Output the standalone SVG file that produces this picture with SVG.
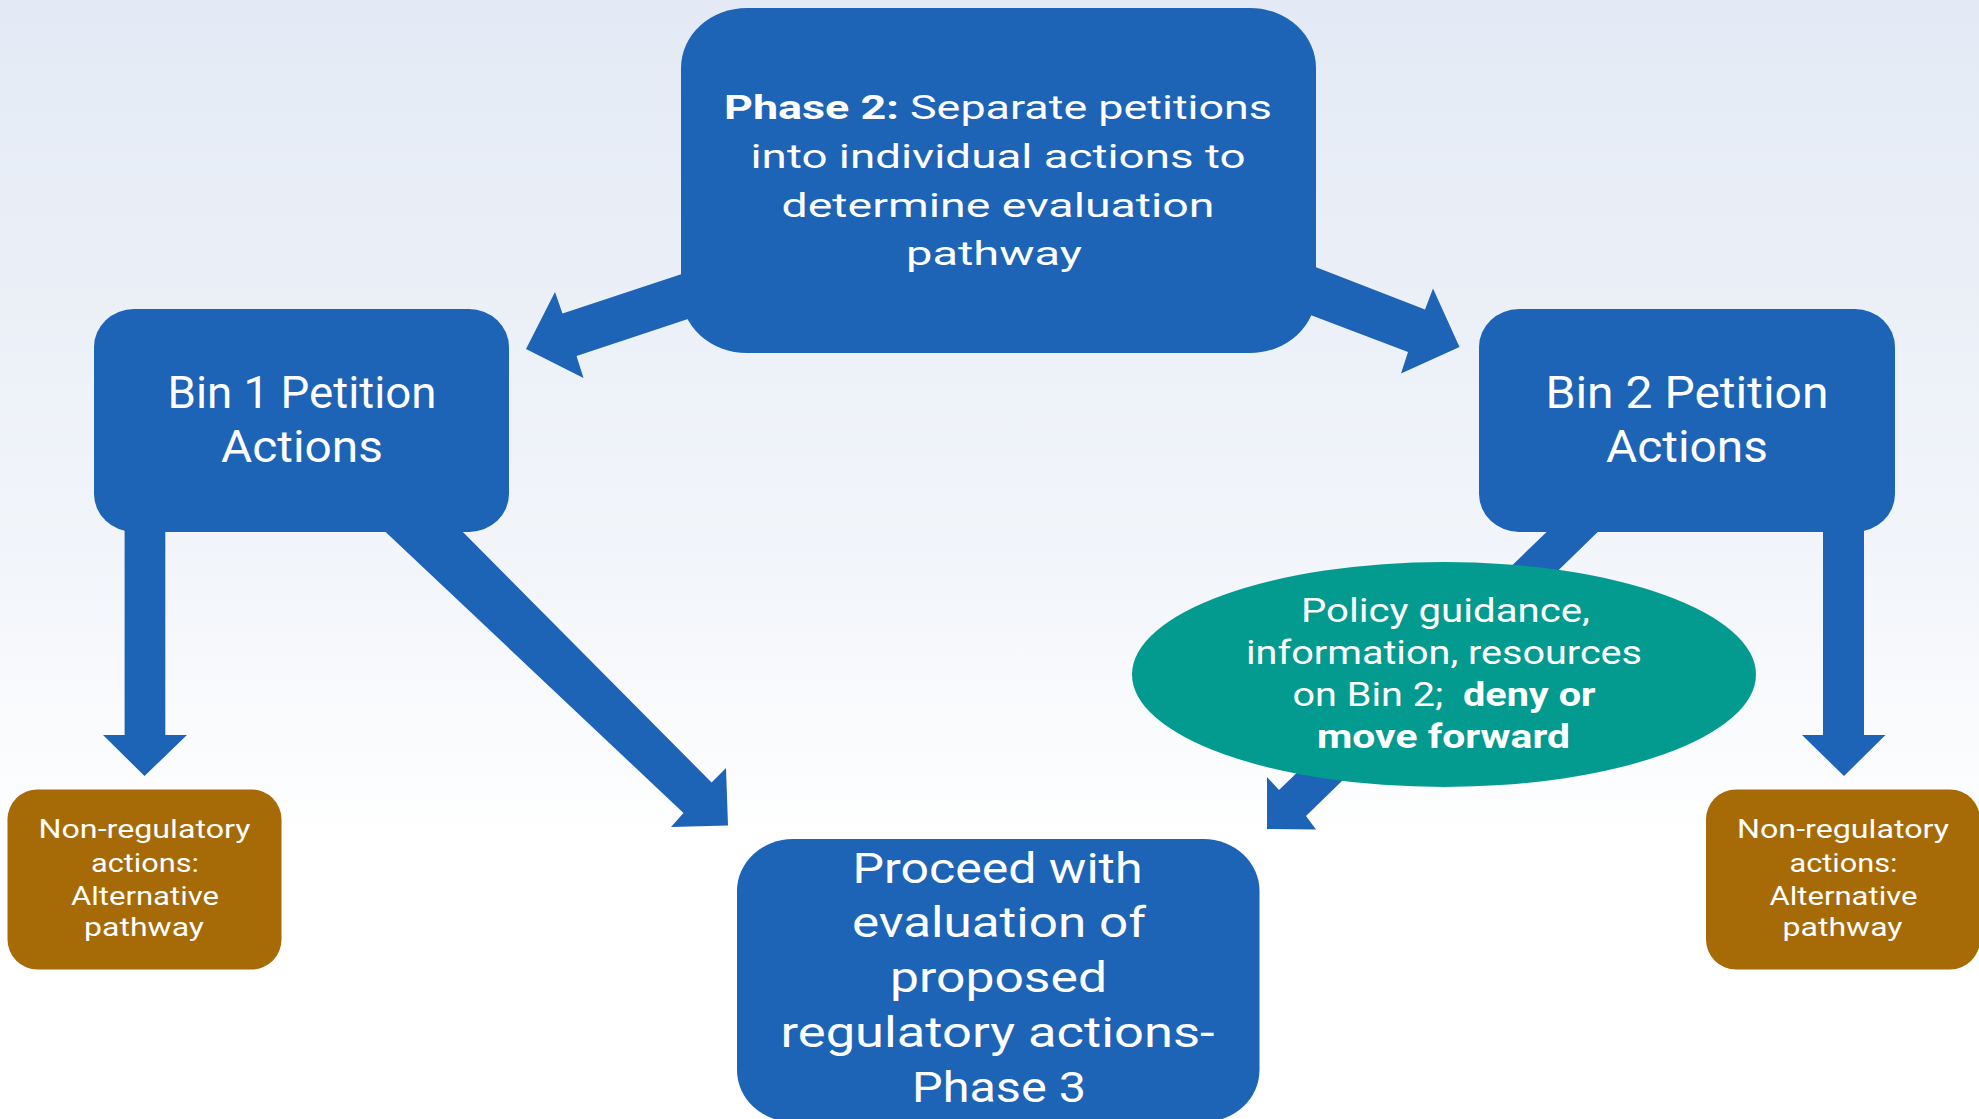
<svg xmlns="http://www.w3.org/2000/svg" width="1979" height="1119" viewBox="0 0 1979 1119">
<defs>
<linearGradient id="bg" x1="0" y1="0" x2="0" y2="1">
<stop offset="0" stop-color="#e3eaf5"/>
<stop offset="0.5" stop-color="#f2f5fa"/>
<stop offset="0.75" stop-color="#ffffff"/>
<stop offset="1" stop-color="#ffffff"/>
</linearGradient>
<style>
.blue{fill:#1d63b6}
.brown{fill:#a66a06}
.teal{fill:#039b8f}
.t{fill:#ffffff;font-family:Roboto,"Liberation Sans",sans-serif;text-anchor:middle}
.b{font-weight:700}
</style>
</defs>
<rect x="0" y="0" width="1979" height="1119" fill="url(#bg)"/>
<g id="connectors">
<polygon class="blue" points="700,268 562.5,313.5 555,292 526,349 583.5,378 576.5,356 700,315"/>
<polygon class="blue" points="1300,261 1425,309.5 1433,288.5 1459.5,347 1401,373.5 1408,352 1300,311"/>
<polygon class="blue" points="124.6,520 124.6,735 103,735 144.5,776 187,735 165.3,735 165.3,520"/>
<polygon class="blue" points="1823,520 1823,735 1802,735 1844,776 1885.5,735 1864,735 1864,520"/>
<polygon class="blue" points="375,522 683.5,813 671,827 728,825.5 726,768 711.6,782.5 453,522"/>
<polygon class="blue" points="1557,522 1279,790 1267,777 1267,829 1316,829.5 1306,816 1608,522"/>
</g>
<g id="phase2">
<rect class="blue" x="681" y="8" width="635" height="345" rx="66" ry="60"/>
<text class="t" font-size="34"><tspan x="998" y="119" textLength="548" lengthAdjust="spacingAndGlyphs"><tspan class="b">Phase 2:</tspan> Separate petitions</tspan></text>
<text class="t" font-size="34" x="998" y="168" textLength="495" lengthAdjust="spacingAndGlyphs">into individual actions to</text>
<text class="t" font-size="34" x="998" y="216.5" textLength="433" lengthAdjust="spacingAndGlyphs">determine evaluation</text>
<text class="t" font-size="34" x="994" y="265" textLength="176" lengthAdjust="spacingAndGlyphs">pathway</text>
</g>
<g id="bin1">
<rect class="blue" x="94" y="309" width="415" height="223" rx="40" ry="38"/>
<text class="t" font-size="45" x="302" y="407.5" textLength="269" lengthAdjust="spacingAndGlyphs">Bin 1 Petition</text>
<text class="t" font-size="45" x="302" y="462" textLength="162" lengthAdjust="spacingAndGlyphs">Actions</text>
</g>
<g id="bin2">
<rect class="blue" x="1479" y="309" width="416" height="223" rx="40" ry="38"/>
<text class="t" font-size="45" x="1687" y="407.5" textLength="283" lengthAdjust="spacingAndGlyphs">Bin 2 Petition</text>
<text class="t" font-size="45" x="1687" y="462" textLength="162" lengthAdjust="spacingAndGlyphs">Actions</text>
</g>
<g id="policy">
<ellipse class="teal" cx="1444" cy="674.5" rx="312" ry="112.5"/>
<text class="t" font-size="34" x="1445.5" y="622" textLength="289" lengthAdjust="spacingAndGlyphs">Policy guidance,</text>
<text class="t" font-size="34" x="1444" y="664" textLength="396" lengthAdjust="spacingAndGlyphs">information, resources</text>
<text class="t" font-size="34" style="white-space:pre"><tspan x="1444" y="706" textLength="303" lengthAdjust="spacingAndGlyphs">on Bin 2;  <tspan class="b">deny or</tspan></tspan></text>
<text class="t b" font-size="34" x="1443.5" y="748" textLength="253" lengthAdjust="spacingAndGlyphs">move forward</text>
</g>
<g id="nonreg1">
<rect class="brown" x="7.5" y="789.5" width="274" height="180" rx="30" ry="30"/>
<text class="t" font-size="26" x="144.5" y="838" textLength="212" lengthAdjust="spacingAndGlyphs">Non-regulatory</text>
<text class="t" font-size="26" x="145" y="871.5" textLength="108" lengthAdjust="spacingAndGlyphs">actions:</text>
<text class="t" font-size="26" x="145" y="905" textLength="148" lengthAdjust="spacingAndGlyphs">Alternative</text>
<text class="t" font-size="26" x="144" y="936" textLength="120" lengthAdjust="spacingAndGlyphs">pathway</text>
</g>
<g id="nonreg2">
<rect class="brown" x="1706" y="789.5" width="274" height="180" rx="30" ry="30"/>
<text class="t" font-size="26" x="1843" y="838" textLength="212" lengthAdjust="spacingAndGlyphs">Non-regulatory</text>
<text class="t" font-size="26" x="1843.5" y="871.5" textLength="108" lengthAdjust="spacingAndGlyphs">actions:</text>
<text class="t" font-size="26" x="1843.5" y="905" textLength="148" lengthAdjust="spacingAndGlyphs">Alternative</text>
<text class="t" font-size="26" x="1842.5" y="936" textLength="120" lengthAdjust="spacingAndGlyphs">pathway</text>
</g>
<g id="phase3">
<rect class="blue" x="737" y="839" width="522.5" height="283" rx="56" ry="52"/>
<text class="t" font-size="43" x="997.5" y="883" textLength="290" lengthAdjust="spacingAndGlyphs">Proceed with</text>
<text class="t" font-size="43" x="999" y="937" textLength="294" lengthAdjust="spacingAndGlyphs">evaluation of</text>
<text class="t" font-size="43" x="998.5" y="992" textLength="217" lengthAdjust="spacingAndGlyphs">proposed</text>
<text class="t" font-size="43" x="997.5" y="1047" textLength="434" lengthAdjust="spacingAndGlyphs">regulatory actions-</text>
<text class="t" font-size="43" x="999" y="1102" textLength="174" lengthAdjust="spacingAndGlyphs">Phase 3</text>
</g>
</svg>
